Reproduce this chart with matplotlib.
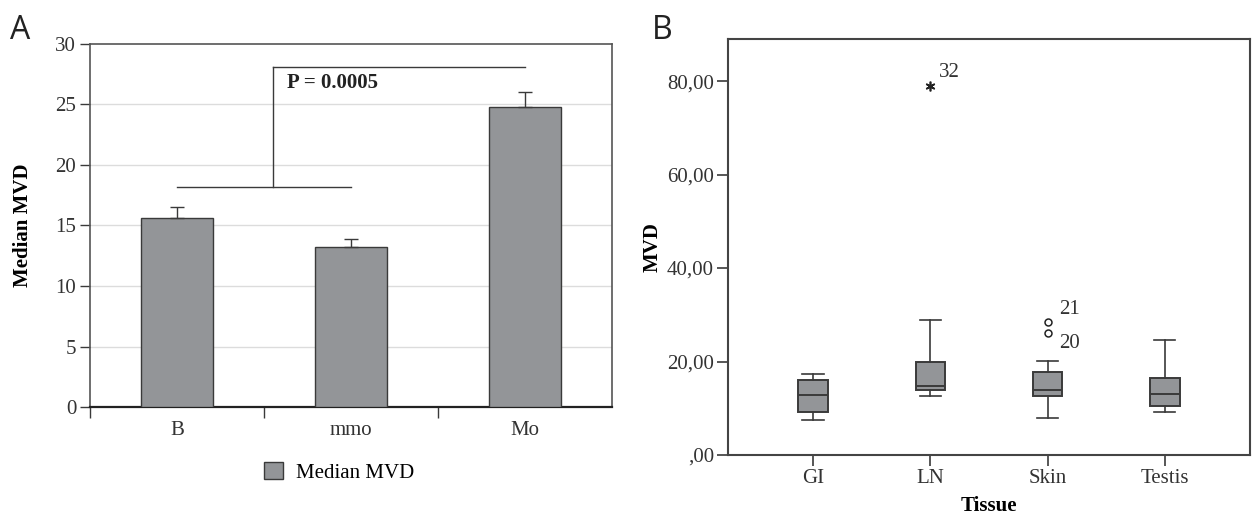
import matplotlib
matplotlib.use("Agg")
import matplotlib.pyplot as plt
from matplotlib.patches import Patch

# Panel A data
groups = ["B", "mmo", "Mo"]
median_mvd = [15.6, 13.2, 24.8]
err_up = [0.9, 0.7, 1.2]

# Panel B data (box stats)
tissues = ["GI", "LN", "Skin", "Testis"]
whislo = [7.5, 12.6, 7.9, 9.3]
q1 = [9.1, 14.0, 12.6, 10.5]
med = [12.8, 14.8, 13.8, 13.0]
q3 = [16.0, 20.0, 17.7, 16.4]
whishi = [17.3, 28.8, 20.2, 24.5]
# outliers: tissue index, value, case id, marker
out_idx = [1, 2, 2]
out_val = [79.0, 28.5, 26.2]
out_id = ["32", "21", "20"]
out_mark = ["*", "o", "o"]

SERIF = "Liberation Serif"
GREY = "#939598"
DARK = "#3a3a3a"
FS = 15

plt.rcParams["font.family"] = SERIF
fig = plt.figure(figsize=(12.54, 5.15), dpi=100)

# ---------------- Panel A ----------------
axA = fig.add_axes([0.0718, 0.2097, 0.4163, 0.7049])
x = list(range(len(groups)))
axA.bar(x, median_mvd, width=0.41, color=GREY, edgecolor=DARK, linewidth=1.0, zorder=3)
axA.errorbar(x, median_mvd, yerr=[[0] * 3, err_up], fmt="none", ecolor=DARK,
             elinewidth=1.0, capsize=5, capthick=1.0, zorder=4)
axA.set_xlim(-0.5, 2.5)
axA.set_ylim(0, 30)
axA.set_yticks(range(0, 31, 5))
for v in range(5, 30, 5):
    axA.axhline(v, color="#dcdcdc", linewidth=1.0, zorder=1)
axA.set_xticks(x)
axA.set_xticklabels(groups)
axA.set_xticks([-0.5, 0.5, 1.5], minor=True)
axA.tick_params(axis="x", which="major", length=0, pad=10, labelsize=FS,
                labelcolor="#333333")
axA.tick_params(axis="x", which="minor", length=8, direction="out", width=1.0, color=DARK)
axA.tick_params(axis="y", length=7, width=1.0, pad=3, labelsize=FS, color=DARK,
                labelcolor="#333333")
for s in axA.spines.values():
    s.set_color("#555555")
    s.set_linewidth(1.2)
axA.spines["bottom"].set_color("#222222")
axA.spines["bottom"].set_linewidth(1.6)
axA.set_ylabel("Median MVD", fontsize=FS, fontweight="bold", labelpad=16)

# significance bracket
axA.plot([0, 1], [18.2, 18.2], color=DARK, linewidth=1.0, zorder=5)
axA.plot([0.55, 0.55], [18.2, 28.1], color=DARK, linewidth=1.0, zorder=5)
axA.plot([0.55, 2], [28.1, 28.1], color=DARK, linewidth=1.0, zorder=5)
axA.text(0.63, 26.8, "P = 0.0005", fontsize=FS, fontweight="bold", va="center",
         ha="left", color="#222222")

axA.legend(handles=[Patch(facecolor=GREY, edgecolor=DARK, linewidth=1.0, label="Median MVD")],
           loc="center", bbox_to_anchor=(0.477, -0.18), frameon=False, fontsize=FS,
           handlelength=0.9, handleheight=0.9, handletextpad=0.6)

fig.text(0.008, 0.94, "A", fontsize=23, family="Open Sans", ha="left",
         va="center", color="#222222")

# ---------------- Panel B ----------------
axB = fig.add_axes([0.5805, 0.1165, 0.4163, 0.8078])
stats = []
for i, t in enumerate(tissues):
    stats.append({"label": t, "whislo": whislo[i], "q1": q1[i], "med": med[i],
                  "q3": q3[i], "whishi": whishi[i], "fliers": []})
pos = list(range(1, len(tissues) + 1))
axB.bxp(stats, positions=pos, widths=0.25, showfliers=False, patch_artist=True,
        capwidths=0.18,
        boxprops=dict(facecolor=GREY, edgecolor=DARK, linewidth=1.4),
        medianprops=dict(color=DARK, linewidth=1.4),
        whiskerprops=dict(color=DARK, linewidth=1.2),
        capprops=dict(color=DARK, linewidth=1.2))
for i, v, lab, m in zip(out_idx, out_val, out_id, out_mark):
    if m == "*":
        axB.plot(pos[i], v, marker=(6, 2, 0), markersize=7, color="#222222",
                 markeredgewidth=1.2, linestyle="none")
        axB.annotate(lab, (pos[i], v), xytext=(6, 3), textcoords="offset points",
                     fontsize=FS, ha="left", va="bottom", color="#333333")
    else:
        axB.plot(pos[i], v, marker="o", markersize=5, markerfacecolor="white",
                 markeredgecolor="#222222", markeredgewidth=1.1, linestyle="none")
        if lab == "21":
            axB.annotate(lab, (pos[i], v), xytext=(8, 2), textcoords="offset points",
                         fontsize=FS, ha="left", va="bottom", color="#333333")
        else:
            axB.annotate(lab, (pos[i], v), xytext=(8, -1), textcoords="offset points",
                         fontsize=FS, ha="left", va="top", color="#333333")

axB.set_xlim(0.275, 4.725)
axB.set_ylim(0, 89)
axB.set_yticks([0, 20, 40, 60, 80])
axB.set_yticklabels([",00", "20,00", "40,00", "60,00", "80,00"])
axB.set_xticks(pos)
axB.set_xticklabels(tissues)
axB.tick_params(axis="both", length=8, width=1.2, color=DARK, labelsize=FS,
                labelcolor="#333333")
axB.tick_params(axis="y", pad=2)
axB.tick_params(axis="x", pad=2)
for s in axB.spines.values():
    s.set_color("#444444")
    s.set_linewidth(1.5)
axB.set_ylabel("MVD", fontsize=FS, fontweight="bold", labelpad=3)
axB.set_xlabel("Tissue", fontsize=FS, fontweight="bold", labelpad=6)

fig.text(0.52, 0.94, "B", fontsize=23, family="Open Sans", ha="left",
         va="center", color="#222222")

fig.savefig("out.png", dpi=100, facecolor="white")
